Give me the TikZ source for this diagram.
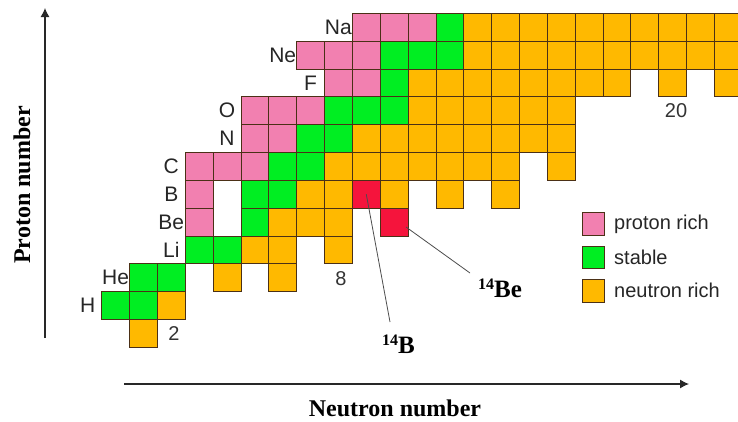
\documentclass[tikz,border=0pt]{standalone}
\usepackage{fontspec}
\setmainfont{Liberation Serif}
\setsansfont{Liberation Sans}
\usetikzlibrary{arrows.meta}
\definecolor{cpink}{RGB}{242,128,176}
\definecolor{cgreen}{RGB}{0,238,34}
\definecolor{corange}{RGB}{255,185,0}
\definecolor{cred}{RGB}{245,20,60}
\definecolor{cborder}{RGB}{75,48,22}
\definecolor{caxis}{RGB}{40,40,40}
\newcommand\cellrow[3]{\foreach \n in {#3}{\node[cellbox,#2] (c\n-#1) at ({101.7+27.85*\n},{319.55-27.85*#1}) {};}}
\tikzset{
 cellbox/.style={draw=cborder, line width=0.8pt, minimum size=27.85pt, inner sep=0pt, outer sep=0pt, anchor=north west},
 pk/.style={fill=cpink}, gr/.style={fill=cgreen}, og/.style={fill=corange}, rd/.style={fill=cred},
 elem/.style={font=\sffamily\fontsize{21}{21}\selectfont, text=black!85, inner sep=0pt},
 num/.style={font=\sffamily\fontsize{20}{20}\selectfont, text=black!80, inner sep=0pt},
 legbox/.style={draw=cborder, line width=0.8pt, minimum size=22.5pt, inner sep=0pt},
 legtext/.style={font=\sffamily\fontsize{20}{20}\selectfont, text=black!85, anchor=west, inner sep=0pt},
 axlab/.style={font=\bfseries\fontsize{24}{24}\selectfont, inner sep=0pt},
 redlab/.style={font=\bfseries\fontsize{25}{25}\selectfont, inner sep=0pt},
 axisarrow/.style={draw=caxis, line width=1.1pt, -{Latex[length=9pt,width=9pt]}},
 lead/.style={draw=black!70, line width=0.8pt},
}
\newcommand\supn[1]{\raisebox{8pt}{\fontsize{16}{16}\selectfont #1}}
\begin{document}
\begin{tikzpicture}[x=1pt,y=-1pt]
\useasboundingbox (0,0) rectangle (738,421);
\clip (0,0) rectangle (738,421);
% cells: Z, style, list of N
\cellrow{0}{og}{1}
\cellrow{1}{gr}{0,1}\cellrow{1}{og}{2}
\cellrow{2}{gr}{1,2}\cellrow{2}{og}{4,6}
\cellrow{3}{gr}{3,4}\cellrow{3}{og}{5,6,8}
\cellrow{4}{pk}{3}\cellrow{4}{gr}{5}\cellrow{4}{og}{6,7,8}\cellrow{4}{rd}{10}
\cellrow{5}{pk}{3}\cellrow{5}{gr}{5,6}\cellrow{5}{og}{7,8,10,12,14}\cellrow{5}{rd}{9}
\cellrow{6}{pk}{3,4,5}\cellrow{6}{gr}{6,7}\cellrow{6}{og}{8,...,14,16}
\cellrow{7}{pk}{5,6}\cellrow{7}{gr}{7,8}\cellrow{7}{og}{9,...,16}
\cellrow{8}{pk}{5,6,7}\cellrow{8}{gr}{8,9,10}\cellrow{8}{og}{11,...,16}
\cellrow{9}{pk}{8,9}\cellrow{9}{gr}{10}\cellrow{9}{og}{11,...,18,20,22}
\cellrow{10}{pk}{7,8,9}\cellrow{10}{gr}{10,11,12}\cellrow{10}{og}{13,...,22}
\cellrow{11}{pk}{9,10,11}\cellrow{11}{gr}{12}\cellrow{11}{og}{13,...,22}
% element labels
\node[elem] (lH) at (87.8,305.6) {H};
\node[elem] (lHe) at (115.6,277.8) {He};
\node[elem] (lLi) at (171.3,249.95) {Li};
\node[elem] (lBe) at (171.3,222.1) {Be};
\node[elem] (lB) at (171.3,194.25) {B};
\node[elem] (lC) at (171.3,166.4) {C};
\node[elem] (lN) at (227,138.55) {N};
\node[elem] (lO) at (227,110.7) {O};
\node[elem] (lF) at (310.5,82.85) {F};
\node[elem] (lNe) at (282.7,55) {Ne};
\node[elem] (lNa) at (338.3,27.15) {Na};
% magic numbers
\node[num] (m2) at (174,334) {2};
\node[num] (m8) at (341,279) {8};
\node[num] (m20) at (676,111) {20};
% legend
\node[legbox, fill=cpink] (lg1) at (593.5,224) {};
\node[legbox, fill=cgreen] (lg2) at (593.5,257.3) {};
\node[legbox, fill=corange] (lg3) at (593.5,290.8) {};
\node[legtext] (lt1) at (614,224) {proton rich};
\node[legtext] (lt2) at (614,257.3) {stable};
\node[legtext] (lt3) at (614,290.8) {neutron rich};
% leaders and red labels
\coordinate (e14B) at (390,322);
\coordinate (s14Be) at (406,227);
\coordinate (e14Be) at (470,273);
\draw[lead] (c9-5.center) -- (e14B);
\draw[lead] (s14Be) -- (e14Be);
\node[redlab, anchor=base west] (l14B) at (382,353) {\supn{14}B};
\node[redlab, anchor=base west] (l14Be) at (478,297) {\supn{14}Be};
% axes
\coordinate (ya) at (45,338);
\coordinate (yb) at (45,8);
\coordinate (xa) at (124,384);
\coordinate (xb) at (689,384);
\draw[axisarrow] (ya) -- (yb);
\draw[axisarrow] (xa) -- (xb);
\node[axlab, rotate=90] (py) at (22,185) {Proton number};
\node[axlab] (nx) at (395,408) {Neutron number};
\end{tikzpicture}
\end{document}
